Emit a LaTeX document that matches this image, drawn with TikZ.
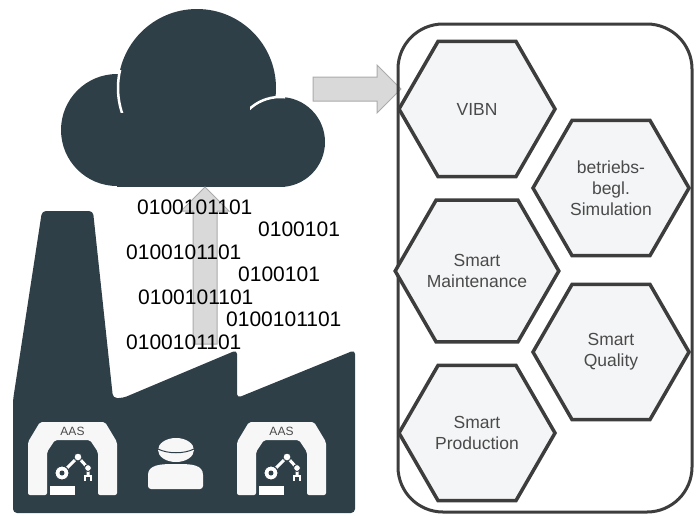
\documentclass[tikz,border=0pt]{standalone}
\usepackage{fontspec}
\setmainfont{Liberation Sans}
\usetikzlibrary{shapes.geometric,shapes.arrows}

\definecolor{slate}{HTML}{2F3F48}
\definecolor{hexline}{HTML}{3D3D3D}
\definecolor{hexfill}{HTML}{F4F5F6}
\definecolor{arrowfill}{HTML}{D9D9D9}
\definecolor{arrowline}{HTML}{ABABAB}
\definecolor{labelgray}{HTML}{4A4A4A}

\tikzset{
  hexa/.style={regular polygon, regular polygon sides=6, minimum size=156pt,
    inner sep=0pt, draw=hexline, line width=3.5pt, fill=hexfill,
    text=labelgray, align=center, font=\fontsize{17.5}{21}\selectfont},
  bits/.style={anchor=west, inner sep=0pt, font=\fontsize{21}{21}\selectfont},
  blockarrow/.style={single arrow, single arrow head extend=12pt,
    single arrow head indent=0pt, inner sep=11.5pt, fill=arrowfill,
    draw=arrowline, line width=1pt},
  gantry/.style={fill=white!97!black, rounded corners=2pt},
}

% robot arm inside a gantry, #1 = top left corner of the gantry
\newcommand{\robotarm}[1]{%
  \begin{scope}[shift={#1}]
    \fill[gantry] (0,73) -- (0,20) -- (12,0) -- (77,0) -- (89,20) -- (89,73)
      -- (70,73) -- (70,30) -- (62,18) -- (27,18) -- (19,30) -- (19,73) -- cycle;
    \node[text=labelgray, font=\fontsize{12}{12}\selectfont] at (44.5,9.5) {AAS};
    \fill[white] (22,64) rectangle (47,73);
    \draw[white, line width=3pt] (34,51) -- (50,35) -- (60,46) -- (60,53);
    \draw[slate, fill=white, line width=1pt] (34,51) circle (7pt);
    \fill[slate] (34,51) circle (2.5pt);
    \draw[slate, fill=white, line width=1pt] (50,35) circle (4pt);
    \draw[slate, fill=white, line width=1pt] (60,46) circle (3.5pt);
    \draw[white, line width=1.5pt] (57,59) -- (57,54) -- (63,54) -- (63,59);
  \end{scope}}

\begin{document}
\begin{tikzpicture}[x=1pt, y=-1pt]
  \useasboundingbox (0,0) rectangle (698,515);

  % cloud
  \fill[slate] (197,88) circle (79pt);
  \fill[slate] (117,130) circle (56pt);
  \fill[slate] (280,142) circle (45pt);
  \fill[slate] (117,120) rectangle (280,187);
  \begin{scope}
    \clip (100,70) rectangle (140,112);
    \draw[white, line width=2.5pt] (197,88) circle (79pt);
  \end{scope}
  \begin{scope}
    \clip (250,88) rectangle (285,116);
    \draw[white, line width=2.5pt] (280,142) circle (45pt);
  \end{scope}

  % factory
  \fill[slate, rounded corners=4pt] (13,513) -- (13,400) -- (42,211) -- (93,211)
    -- (113,398) -- (123,398) -- (237,350) -- (237,398) -- (355,350)
    -- (355,513) -- cycle;
  \robotarm{(28,422)}
  \robotarm{(237,422)}

  % worker
  \fill[white!97!black] (176,450) ellipse [x radius=18pt, y radius=12pt];
  \draw[slate, line width=1pt] (158,449) .. controls (168,454) and (184,454) .. (194,449);
  \fill[white!97!black, rounded corners=3pt] (148,489) -- (148,478)
    .. controls (148,465) and (160,464) .. (176,464)
    .. controls (192,464) and (203,465) .. (203,478) -- (203,489) -- cycle;

  % data going up
  \node[blockarrow, minimum height=157pt, rotate=90] (upload) at (205,271.5) {};
  \node[bits] (b1) at (137,207) {0100101101};
  \node[bits] (b2) at (258,229) {0100101};
  \node[bits] (b3) at (126,252) {0100101101};
  \node[bits] (b4) at (238,274) {0100101};
  \node[bits] (b5) at (138,297) {0100101101};
  \node[bits] (b6) at (226,319) {0100101101};
  \node[bits] (b7) at (126,342) {0100101101};

  % services
  \node[blockarrow, minimum height=88pt] (toservices) at (351,89) {};
  \node[draw=hexline, line width=3pt, rounded corners=45pt, minimum width=294pt,
    minimum height=488pt] (panel) at (545,268) {};
  \node[hexa] (vibn) at (477,109) {VIBN};
  \node[hexa] (sim) at (611,188) {betriebs-\\begl.\\Simulation};
  \node[hexa] (maint) at (477,271) {Smart\\Maintenance};
  \node[hexa] (quality) at (611,352) {Smart\\Quality};
  \node[hexa] (prod) at (477,433) {Smart\\Production};
\end{tikzpicture}
\end{document}
